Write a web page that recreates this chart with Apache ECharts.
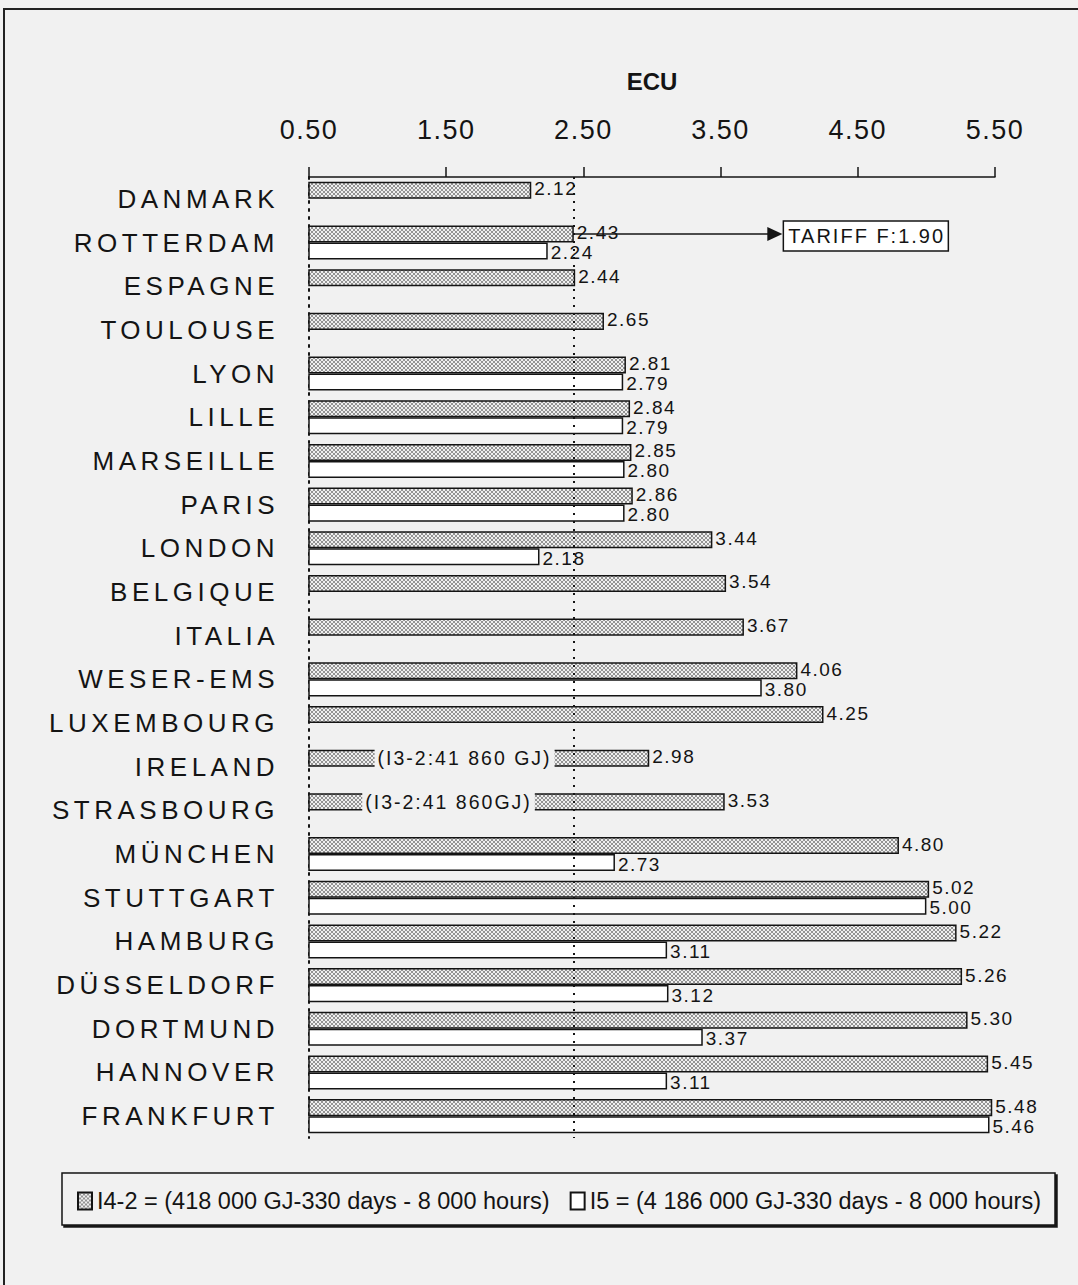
<!DOCTYPE html>
<html>
<head>
<meta charset="utf-8">
<title>ECU</title>
<script src="https://cdn.jsdelivr.net/npm/echarts@6/dist/echarts.min.js"></script>
<style>
  html, body { margin: 0; padding: 0; background: #f1f1f1; }
  #chart { width: 1078px; height: 1285px; }
  /* tracking for the spaced-out lettering (svg renderer keeps text as <text>) */
  #chart text[style*="26px"] { letter-spacing: 4.5px; }
  #chart text[style*="27px"] { letter-spacing: 1.5px; }
  #chart text[style*="19px"] { letter-spacing: 1.5px; }
  #chart text[style*="19.5px"] { letter-spacing: 2px; }
  #chart text[style*="20px"] { letter-spacing: 2px; }
</style>
</head>
<body>
<div id="chart"></div>
<script>
// ---- data ----
const categories = ['DANMARK', 'ROTTERDAM', 'ESPAGNE', 'TOULOUSE', 'LYON', 'LILLE', 'MARSEILLE',
  'PARIS', 'LONDON', 'BELGIQUE', 'ITALIA', 'WESER-EMS', 'LUXEMBOURG', 'IRELAND', 'STRASBOURG',
  'MÜNCHEN', 'STUTTGART', 'HAMBURG', 'DÜSSELDORF', 'DORTMUND', 'HANNOVER', 'FRANKFURT'];

const seriesI42 = [2.12, 2.43, 2.44, 2.65, 2.81, 2.84, 2.85, 2.86, 3.44, 3.54, 3.67, 4.06, 4.25,
  2.98, 3.53, 4.80, 5.02, 5.22, 5.26, 5.30, 5.45, 5.48];

const seriesI5 = [null, 2.24, null, null, 2.79, 2.79, 2.80, 2.80, 2.18, null, null, 3.80, null,
  null, null, 2.73, 5.00, 3.11, 3.12, 3.37, 3.11, 5.46];

const axisMin = 0.5;
const axisMax = 5.5;
const axisStep = 1;
const axisTitle = 'ECU';

const seriesNames = ['I4-2', 'I5'];
const legendTexts = {
  'I4-2': 'I4-2 = (418 000 GJ-330 days - 8 000 hours)',
  'I5': 'I5 = (4 186 000 GJ-330 days - 8 000 hours)'
};

// Rotterdam tariff call-out
const tariffCity = 'ROTTERDAM';
const tariffText = 'TARIFF F:1.90';
const tariffArrowTo = 3.95;

// I3-2 notes written across two bars
const i32Cities = ['IRELAND', 'STRASBOURG'];
const i32Texts = ['(I3-2:41 860 GJ)', '(I3-2:41 860GJ)'];
const i32At = [1.0, 0.91];

// ---- styling helpers ----
const FONT = '"Liberation Sans", Arial, Helvetica, sans-serif';
const INK = '#141414';
const BG = '#f1f1f1';

function hatchImage() {
  const c = document.createElement('canvas');
  c.width = 4; c.height = 4;
  const g = c.getContext('2d');
  g.fillStyle = '#efefef';
  g.fillRect(0, 0, 4, 4);
  g.fillStyle = '#939393';
  [[0, 0], [3, 0], [1, 1], [2, 1], [1, 2], [2, 2], [0, 3], [3, 3]].forEach(function (p) {
    g.fillRect(p[0], p[1], 1, 1);
  });
  return c.toDataURL();
}
const hatchFill = { image: hatchImage(), repeat: 'repeat', imageWidth: 4, imageHeight: 4 };

function valueLabel(dy) {
  return {
    show: true,
    position: 'right',
    distance: 3,
    offset: [0, dy],
    fontSize: 19,
    fontFamily: FONT,
    color: INK,
    formatter: function (p) { return p.value == null ? '' : Number(p.value).toFixed(2); }
  };
}

const chart = echarts.init(document.getElementById('chart'), null, { renderer: 'svg' });

chart.setOption({
  backgroundColor: BG,
  animation: false,
  grid: { left: 309, right: 83, top: 177, bottom: 147, containLabel: false, outerBoundsMode: 'none' },
  xAxis: {
    type: 'value',
    position: 'top',
    min: axisMin,
    max: axisMax,
    interval: axisStep,
    name: axisTitle,
    nameLocation: 'middle',
    nameGap: 84,
    nameTextStyle: { fontSize: 24, fontWeight: 'bold', fontFamily: FONT, color: INK },
    axisLine: { show: true, lineStyle: { color: INK, width: 1.5 } },
    axisTick: { show: true, length: 10, lineStyle: { color: INK, width: 1.5 } },
    axisLabel: {
      margin: 34, fontSize: 27, fontFamily: FONT, color: INK,
      formatter: function (v) { return v.toFixed(2); }
    },
    splitLine: { show: false }
  },
  yAxis: {
    type: 'category',
    data: categories,
    inverse: true,
    axisTick: { show: false },
    axisLine: { show: true, onZero: false, lineStyle: { color: INK, width: 2, type: [2, 6] } },
    axisLabel: { margin: 30, fontSize: 26, fontFamily: FONT, color: INK, padding: [6, 0, 0, 0] }
  },
  legend: {
    data: seriesNames,
    left: 77,
    top: 1189,
    padding: 0,
    itemWidth: 14,
    itemHeight: 17,
    itemGap: 20,
    selectedMode: false,
    icon: 'rect',
    formatter: function (n) { return legendTexts[n]; },
    textStyle: { fontSize: 23.5, fontFamily: FONT, color: INK }
  },
  series: [
    {
      name: seriesNames[0],
      type: 'bar',
      data: seriesI42,
      barGap: '0%',
      barCategoryGap: '22%',
      itemStyle: { color: hatchFill, borderColor: INK, borderWidth: 1.5 },
      label: valueLabel(-1.5)
    },
    {
      name: seriesNames[1],
      type: 'bar',
      data: seriesI5,
      itemStyle: { color: '#ffffff', borderColor: INK, borderWidth: 1.5 },
      label: valueLabel(1.5),
      markLine: {
        silent: true,
        symbol: 'none',
        label: { show: false },
        lineStyle: { color: INK, width: 2, type: [2, 6] },
        data: [{ xAxis: seriesI42[categories.indexOf(tariffCity)] }]
      }
    }
  ]
});

// ---- annotations placed through the axes ----
function toPx(v, cat) { return chart.convertToPixel({ gridIndex: 0 }, [v, cat]); }
const band = toPx(axisMin, categories[1])[1] - toPx(axisMin, categories[0])[1];
const barW = band * 0.78 / 2;
function upperBarY(cat) { return toPx(axisMin, cat)[1] - barW / 2; }

const measureCtx = document.createElement('canvas').getContext('2d');
function trackedWidth(text, font, spacing) {
  measureCtx.font = font;
  return measureCtx.measureText(text).width + spacing * text.length;
}

const graphics = [];

// page frame
graphics.push({
  type: 'rect', z: 0, silent: true,
  shape: { x: 4, y: 9, width: 1110, height: 1300 },
  style: { fill: 'none', stroke: '#222', lineWidth: 2 }
});

// legend frame
graphics.push({
  type: 'rect', z: 0, silent: true,
  shape: { x: 62, y: 1173, width: 993, height: 52 },
  style: { fill: BG, stroke: INK, lineWidth: 1.5, shadowColor: INK, shadowOffsetX: 2, shadowOffsetY: 2, shadowBlur: 0 }
});

// tariff arrow + box
(function () {
  const idx = categories.indexOf(tariffCity);
  const y = upperBarY(tariffCity);
  const x0 = toPx(seriesI42[idx], tariffCity)[0];
  const x1 = toPx(tariffArrowTo, tariffCity)[0];
  graphics.push({
    type: 'line', z: 20, silent: true,
    shape: { x1: x0, y1: y, x2: x1 - 12, y2: y },
    style: { stroke: INK, lineWidth: 1.5 }
  });
  graphics.push({
    type: 'polygon', z: 20, silent: true,
    shape: { points: [[x1 - 15, y - 7], [x1, y], [x1 - 15, y + 7]] },
    style: { fill: INK }
  });
  graphics.push({
    type: 'rect', z: 20, silent: true,
    shape: { x: x1 + 1, y: y - 13, width: 165, height: 30 },
    style: { fill: '#ffffff', stroke: INK, lineWidth: 1.5 }
  });
  graphics.push({
    type: 'text', z: 21, silent: true,
    x: x1 + 6, y: y + 2,
    style: { text: tariffText, font: '20px ' + FONT, fill: INK, align: 'left', verticalAlign: 'middle' }
  });
})();

// I3-2 notes: a gap cut into the bar, with the note written in it
i32Cities.forEach(function (cat, i) {
  const y = upperBarY(cat);
  const x = toPx(i32At[i], cat)[0];
  const font = '19.5px ' + FONT;
  const w = trackedWidth(i32Texts[i], font, 2) + 6;
  graphics.push({
    type: 'rect', z: 19, silent: true,
    shape: { x: x - 3, y: y - barW / 2 - 2, width: w, height: barW + 4 },
    style: { fill: BG }
  });
  graphics.push({
    type: 'text', z: 20, silent: true,
    x: x, y: y,
    style: { text: i32Texts[i], font: font, fill: INK, align: 'left', verticalAlign: 'middle' }
  });
});

chart.setOption({ graphic: graphics });
</script>
</body>
</html>
